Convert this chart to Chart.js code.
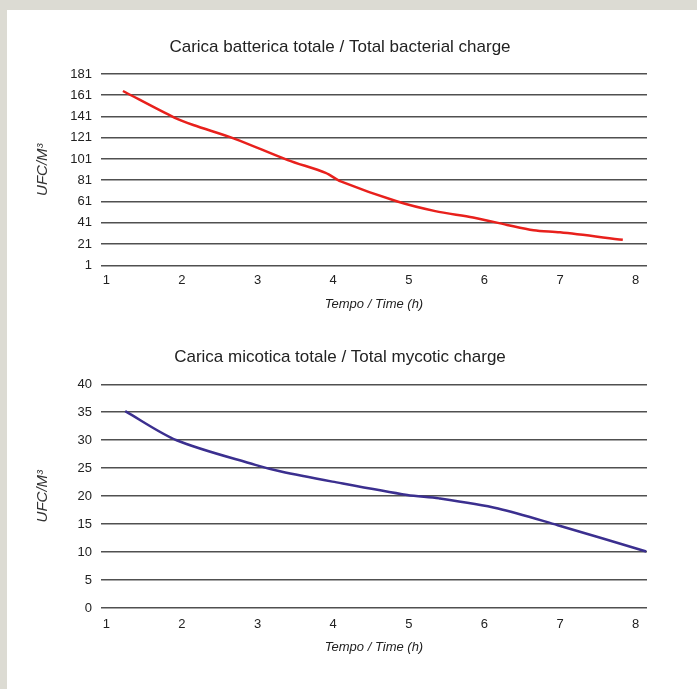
<!DOCTYPE html>
<html>
<head>
<meta charset="utf-8">
<script src="https://cdn.jsdelivr.net/npm/chart.js@4.4.1/dist/chart.umd.min.js"></script>
<style>
  html, body { margin: 0; padding: 0; }
  body { width: 697px; height: 689px; background: #dcdbd3; position: relative; overflow: hidden; }
  #panel { position: absolute; left: 7px; top: 10px; right: 0; bottom: 0; background: #fff; }
  .box { position: absolute; left: 0; width: 697px; }
  #top { top: 0; height: 320px; }
  #bottom { top: 310px; height: 360px; }
</style>
</head>
<body>
<div id="panel"></div>
<div class="box" id="top"><canvas id="c1"></canvas></div>
<div class="box" id="bottom"><canvas id="c2"></canvas></div>
<script>
// x ticks (hours)
const timeTicks = [1, 2, 3, 4, 5, 6, 7, 8];

// bacterial charge
const bactTime = [1.22, 1.9, 2.15, 2.7, 3.4, 3.9, 4.1, 4.85, 5.35, 5.85, 6.3, 6.65, 7.0, 7.83];
const bactUfc  = [165, 140, 133, 120, 100, 88, 80, 61, 52, 46, 39, 34, 32, 25];
const bactTicks = [1, 21, 41, 61, 81, 101, 121, 141, 161, 181];

// mycotic charge
const mycoTime = [1.25, 1.93, 2.97, 3.31, 3.99, 4.98, 5.4, 6.18, 6.97, 8.14];
const mycoUfc  = [35.2, 30, 25.6, 24.4, 22.6, 20.2, 19.6, 17.8, 14.8, 10.1];
const mycoTicks = [0, 5, 10, 15, 20, 25, 30, 35, 40];

const FONT = 'Arial, "Liberation Sans", Helvetica, sans-serif';
const TXT = '#222';

function makeChart(id, cfg) {
  const pts = cfg.xs.map((x, i) => ({ x: x, y: cfg.ys[i] }));
  return new Chart(document.getElementById(id), {
    type: 'line',
    data: {
      datasets: [{
        data: pts,
        borderColor: cfg.color,
        borderWidth: 2.5,
        pointRadius: 0,
        tension: 0.3,
        fill: false
      }]
    },
    options: {
      responsive: true,
      maintainAspectRatio: false,
      animation: false,
      // left padding keeps the title centred where the original has it
      layout: { padding: { left: 33, right: 50, top: 0, bottom: cfg.padBottom } },
      plugins: {
        legend: { display: false },
        tooltip: { enabled: false },
        title: {
          display: true,
          text: cfg.title,
          color: TXT,
          font: { family: FONT, size: 17, weight: 'normal' },
          padding: { top: cfg.titleTop, bottom: 16.8 }
        }
      },
      scales: {
        x: {
          type: 'linear',
          min: 0.93,
          max: 8.15,
          afterBuildTicks: s => { s.ticks = timeTicks.map(v => ({ value: v })); },
          afterFit: s => { s.height = 50; },
          grid: { display: false, drawTicks: false },
          border: { display: false },
          ticks: { color: TXT, font: { family: FONT, size: 13 }, padding: cfg.xTickPad, maxRotation: 0 },
          title: {
            display: true,
            text: 'Tempo / Time (h)',
            color: TXT,
            font: { family: FONT, size: 13, style: 'italic' },
            padding: { top: 0, bottom: cfg.xTitlePad }
          }
        },
        y: {
          min: cfg.yTicks[0],
          max: cfg.yTicks[cfg.yTicks.length - 1],
          afterBuildTicks: s => { s.ticks = cfg.yTicks.map(v => ({ value: v })); },
          afterFit: s => { s.width = 68; },
          grid: { color: '#505050', lineWidth: 1.6, drawTicks: false },
          border: { display: false },
          ticks: { color: TXT, font: { family: FONT, size: 13 }, padding: 9 },
          title: {
            display: true,
            text: 'UFC/M³',
            color: '#333',
            font: { family: FONT, size: 15, style: 'italic' },
            padding: { top: 1, bottom: 0 }
          }
        }
      }
    }
  });
}

makeChart('c1', {
  title: 'Carica batterica totale / Total bacterial charge',
  xs: bactTime, ys: bactUfc, yTicks: bactTicks,
  color: '#e8201c', padBottom: 4.7, titleTop: 36.8, xTickPad: 7, xTitlePad: 3.5
});

makeChart('c2', {
  title: 'Carica micotica totale / Total mycotic charge',
  xs: mycoTime, ys: mycoUfc, yTicks: mycoTicks,
  color: '#3b2f8f', padBottom: 12, titleTop: 37.1, xTickPad: 9, xTitlePad: 2.5
});
</script>
</body>
</html>
